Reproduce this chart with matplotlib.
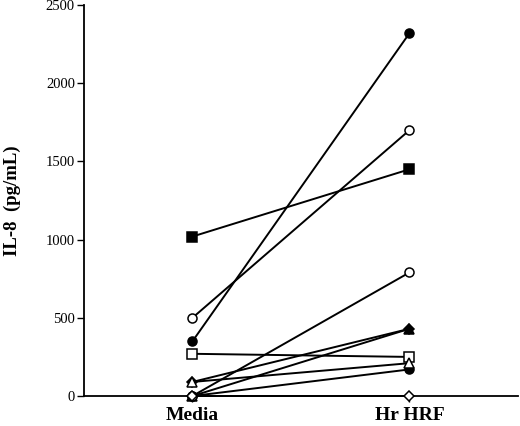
import matplotlib.pyplot as plt

plt.rcParams['font.family'] = ['Liberation Serif', 'DejaVu Serif']

conditions = ['Media', 'Hr HRF']
# IL-8 (pg/mL) for each donor: (Media, HrHRF)
media = [350, 500, 1020, 270, 0, 0, 90, 90, 0, 0]
hrhrf = [2320, 1700, 1450, 250, 790, 430, 430, 210, 170, 0]
markers = ['o', 'o', 's', 's', 'o', '^', 'D', '^', 'o', 'D']
filled = [True, False, True, False, False, True, True, False, True, False]

fig = plt.figure(figsize=(5.2, 4.26), dpi=100)
ax = fig.add_axes([0.1615, 0.0704, 0.8345, 0.9176])

x = [1, 2]
for m, h, mk, f in zip(media, hrhrf, markers, filled):
    ms = 5 if mk == 'D' else 6.5
    ax.plot(x, [m, h], color='black', lw=1.4, marker=mk, markersize=ms,
            markerfacecolor='black' if f else 'white', markeredgecolor='black',
            markeredgewidth=1.1, clip_on=False, zorder=3 if not f else 2)

ax.set_xlim(0.5, 2.5)
ax.set_ylim(0, 2500)
ax.set_yticks([0, 500, 1000, 1500, 2000, 2500])
ax.set_xticks(x)
ax.set_xticklabels(conditions, fontsize=14, fontweight='bold')
ax.tick_params(axis='y', direction='out', length=5, width=1, labelsize=10.5, pad=1.5)
ax.tick_params(axis='x', direction='out', length=4, width=1, pad=4)

for side in ['top', 'right']:
    ax.spines[side].set_visible(False)
ax.spines['left'].set_linewidth(1.3)
ax.spines['bottom'].set_linewidth(1.3)

ax.set_ylabel('IL-8  (pg/mL)', fontsize=13.5, fontweight='bold')
ax.yaxis.set_label_coords(-0.145, 0.5)

fig.savefig('out.png', dpi=100)
